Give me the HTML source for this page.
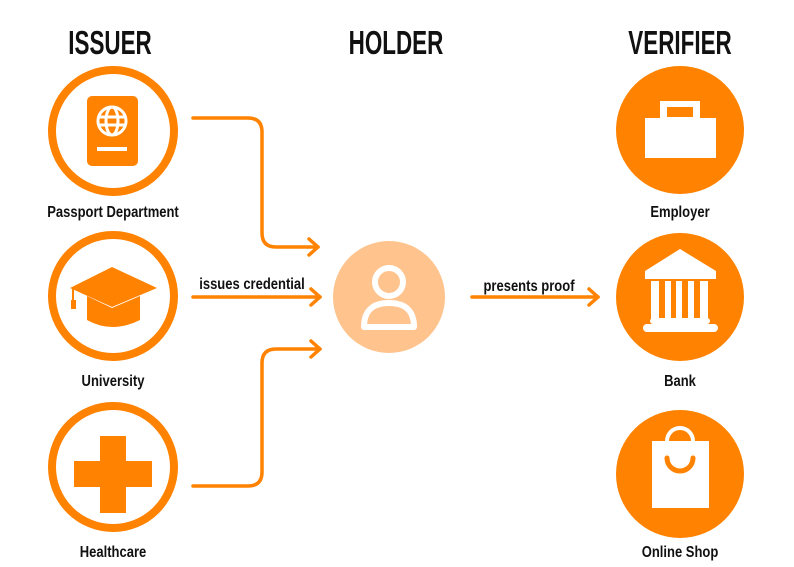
<!DOCTYPE html>
<html><head><meta charset="utf-8"><style>
body{margin:0;background:#fff;}
svg{display:block}
text{font-family:"Liberation Sans",sans-serif;font-weight:bold;fill:#111;text-anchor:middle}
</style></head><body>
<svg width="794" height="567" viewBox="0 0 794 567" xmlns="http://www.w3.org/2000/svg">
<g font-size="33">
<text transform="translate(110,54) scale(0.68,1)">ISSUER</text>
<text transform="translate(396,54) scale(0.68,1)">HOLDER</text>
<text transform="translate(680,54) scale(0.68,1)">VERIFIER</text>
</g>
<g font-size="15.5">
<text transform="translate(113,217) scale(0.84,1)">Passport Department</text>
<text transform="translate(113,386) scale(0.84,1)">University</text>
<text transform="translate(113,557) scale(0.84,1)">Healthcare</text>
<text transform="translate(680,217) scale(0.84,1)">Employer</text>
<text transform="translate(680,386) scale(0.84,1)">Bank</text>
<text transform="translate(680,557) scale(0.84,1)">Online Shop</text>
<text transform="translate(252,289) scale(0.84,1)">issues credential</text>
<text transform="translate(529,291) scale(0.84,1)">presents proof</text>
</g>
<g fill="none" stroke="#FF8200" stroke-width="8">
<circle cx="113" cy="131" r="61"/>
<circle cx="113" cy="296" r="61"/>
<circle cx="113" cy="467" r="61"/>
</g>
<g fill="#FF8200">
<circle cx="680" cy="130" r="64"/>
<circle cx="680" cy="297" r="64"/>
<circle cx="680" cy="474" r="64"/>
</g>
<circle cx="389" cy="297" r="56" fill="#FFC38D"/>
<!-- passport -->
<rect x="87" y="96" width="51" height="70" rx="5" fill="#FF8200"/>
<g fill="none" stroke="#fff" stroke-width="3">
<circle cx="112" cy="121" r="14"/>
<ellipse cx="112" cy="121" rx="6" ry="14"/>
<line x1="98" y1="117" x2="126" y2="117"/><line x1="98" y1="125" x2="126" y2="125"/>
</g>
<rect x="97" y="147" width="30" height="4" fill="#fff"/>
<!-- grad cap -->
<path d="M70 288 L112 267 L157 288 L112 307 Z" fill="#FF8200"/>
<path d="M87 296 L112 308 L140 296 L140 320 Q112 334 87 320 Z" fill="#FF8200"/>
<line x1="73" y1="289" x2="73" y2="302" stroke="#FF8200" stroke-width="2"/>
<rect x="71" y="300" width="5" height="9" fill="#FF8200"/>
<!-- cross -->
<path d="M100 436 H126 V461 H152 V487 H126 V513 H100 V487 H74 V461 H100 Z" fill="#FF8200"/>
<!-- briefcase -->
<path d="M660 101 H700 V118 H716 V158 H645 V118 H660 Z M667 107 V117 H693 V107 Z" fill="#fff" fill-rule="evenodd"/>
<!-- bank -->
<g fill="#fff">
<path d="M680 249 L716 271 V279 H645 V271 Z"/>
<rect x="651" y="281" width="8" height="39"/><rect x="665" y="281" width="6" height="39"/>
<rect x="676" y="281" width="6" height="39"/><rect x="688" y="281" width="6" height="39"/>
<rect x="700" y="281" width="8" height="39"/>
<rect x="650" y="318" width="60" height="6" rx="3"/>
<rect x="643" y="324" width="75" height="8" rx="4"/>
</g>
<!-- shopping bag -->
<rect x="652" y="441" width="57" height="67" fill="#fff"/>
<path d="M667 448 V441 a13 13 0 0 1 26 0 V448" fill="none" stroke="#fff" stroke-width="4"/>
<path d="M667 458 a13 13 0 0 0 26 0" fill="none" stroke="#FF8200" stroke-width="5" stroke-linecap="round"/>
<!-- person -->
<g fill="none" stroke="#fff" stroke-width="6">
<circle cx="389" cy="282" r="14"/>
<path d="M364 327 Q364 303 389 303 Q414 303 414 327 Z" stroke-linejoin="round"/>
</g>
<!-- arrows -->
<g fill="none" stroke="#FF8200" stroke-width="3.5" stroke-linecap="round" stroke-linejoin="round">
<path d="M193 118 H248 Q262 118 262 132 V233 Q262 247 276 247 H318"/>
<path d="M309 239 L318 247 L309 255"/>
<path d="M193 297 H320"/>
<path d="M311 289 L320 297 L311 305"/>
<path d="M193 486 H248 Q262 486 262 472 V363 Q262 349 276 349 H320"/>
<path d="M311 341 L320 349 L311 357"/>
<path d="M472 297 H598"/>
<path d="M589 289 L598 297 L589 305"/>
</g>
</svg>
</body></html>
